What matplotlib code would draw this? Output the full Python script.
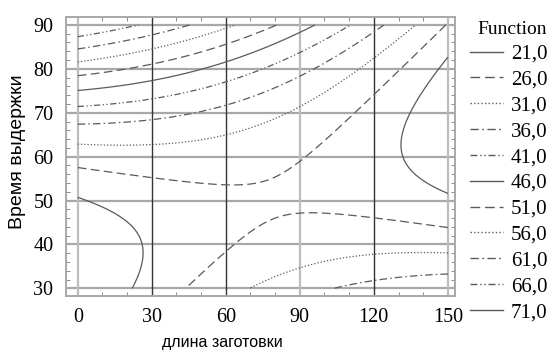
import numpy as np
import matplotlib
matplotlib.use("Agg")
import matplotlib.pyplot as plt
from matplotlib.lines import Line2D
from matplotlib.ticker import MultipleLocator

# contour levels shown in the legend
levels = [21, 26, 31, 36, 41, 46, 51, 56, 61, 66, 71]
level_labels = ["21,0", "26,0", "31,0", "36,0", "41,0", "46,0",
                "51,0", "56,0", "61,0", "66,0", "71,0"]

# points (x = длина заготовки, y = время выдержки)
c21 = [(0, 50.9), (18.3, 46.3), (26.7, 38.7), (22.0, 30.2),
       (150, 82.4), (136.1, 70.0), (131.1, 61.9), (134.1, 57.0), (150, 51.7)]
c26 = [(0, 57.5), (30, 55.3), (60, 53.8), (76.8, 55.1), (90.3, 59.5),
       (95.4, 61.5), (112.3, 70.0), (120.2, 74.4), (148.4, 89.2),
       (43.7, 30.2), (59.5, 38.7), (76.8, 45.0), (89.9, 47.3), (120.2, 46.0), (150, 43.9)]
c31 = [(0, 63.0), (30, 63.1), (60, 64.8), (76.8, 67.8), (90.3, 71.8),
       (120.2, 82.4), (137.5, 90.0),
       (70.0, 30.2), (90.3, 34.8), (105.3, 36.9), (120.2, 37.8), (150, 37.9)]
c36 = [(0, 67.3), (30, 68.3), (60, 71.8), (76.8, 74.4), (90.3, 78.7), (121.9, 90.0),
       (104.5, 30.0), (120.2, 31.9), (150, 33.2)]
c41 = [(0, 71.3), (30, 72.9), (60, 77.3), (76.8, 80.1), (90.3, 84.2), (110.3, 90.0)]
c46 = [(0, 75.1), (30, 77.5), (60, 81.6), (76.8, 84.7), (90.3, 88.5), (96.0, 90.0)]
c51 = [(0, 78.4), (30, 81.0), (60, 85.5)]
c56 = [(0, 81.7), (30, 84.5), (60, 89.0)]
c61 = [(0, 84.6), (30, 87.5), (44.5, 90.0)]
c66 = [(0, 87.3), (24.6, 90.0)]
traced = [(21, c21), (26, c26), (31, c31), (36, c36), (41, c41), (46, c46),
          (51, c51), (56, c56), (61, c61), (66, c66)]

x_range = (0, 150)
y_range = (30, 90)

# fit a quadratic response surface through the traced points
px, py, pz = [], [], []
for lev, pts in traced:
    for a, b in pts:
        px.append(a); py.append(b); pz.append(lev)
u = np.array(px) / 150.0
v = (np.array(py) - 60.0) / 30.0
A = np.column_stack([np.ones_like(u), u, v, u**2, v**2, u*v])
coef, *_ = np.linalg.lstsq(A, np.array(pz, float), rcond=None)

gx = np.linspace(x_range[0], x_range[1], 301)
gy = np.linspace(y_range[0], y_range[1], 301)
GX, GY = np.meshgrid(gx, gy)
U = GX / 150.0
V = (GY - 60.0) / 30.0
Z = coef[0] + coef[1]*U + coef[2]*V + coef[3]*U**2 + coef[4]*V**2 + coef[5]*U*V

styles = ['-', (0, (7, 3.5)), (0, (1, 1.6)), (0, (6, 2.5, 1.2, 2.5)),
          (0, (5, 2, 1, 2, 1, 2))]

fig = plt.figure(figsize=(5.49, 3.53), dpi=100)
ax = fig.add_axes([0.1202, 0.1615, 0.7086, 0.7903])

ax.set_xlim(-4.77, 152.9)
ax.set_ylim(28.27, 91.8)

# grid
for yv in range(30, 91, 10):
    ax.axhline(yv, color='#a8a8a8', lw=1.6, zorder=1)
xgrid_col = {0: '#bdbdbd', 30: '#333333', 60: '#333333', 90: '#bdbdbd',
             120: '#333333', 150: '#bdbdbd'}
for xv, col in xgrid_col.items():
    ax.axvline(xv, color=col, lw=1.0 if col == '#333333' else 1.6, zorder=1)

for i, lev in enumerate(levels):
    ax.contour(GX, GY, Z, levels=[lev], colors='#5a5a5a', linewidths=0.9,
               linestyles=[styles[i % 5]], zorder=3)

ax.set_xticks(range(0, 151, 30))
ax.set_yticks(range(30, 91, 10))
ax.xaxis.set_minor_locator(MultipleLocator(10))
ax.yaxis.set_minor_locator(MultipleLocator(2))
ax.tick_params(which='major', length=0, pad=9)
ax.tick_params(which='minor', direction='in', length=3, color='#777',
               top=True, right=True)
for lab in ax.get_xticklabels() + ax.get_yticklabels():
    lab.set_fontfamily('Liberation Serif')
    lab.set_fontsize(14.5)
for s in ax.spines.values():
    s.set_color('#a8a8a8')
    s.set_linewidth(1.4)

fig.text(222/549, 1 - 343/353, 'длина заготовки', family='Liberation Sans',
         fontsize=11.5, ha='center', va='center')
fig.text(18/549, 1 - 152/353, 'Время выдержки', family='Liberation Sans',
         fontsize=14, ha='center', va='center', rotation=90)

handles = [Line2D([], [], color='#5a5a5a', lw=1.0, linestyle=styles[i % 5])
           for i in range(len(levels))]
leg = fig.legend(handles, level_labels, title='Function', loc='upper left',
                 bbox_to_anchor=(470/549, 1 - 21/353), frameon=False,
                 prop={'family': 'Liberation Serif', 'size': 15},
                 handlelength=1.6, handletextpad=0.35, labelspacing=0.30,
                 borderaxespad=0, borderpad=0)
leg.get_title().set_fontfamily('Liberation Serif')
leg.get_title().set_fontsize(14)
leg._legend_box.align = 'right'

fig.savefig('out.png', dpi=100)
